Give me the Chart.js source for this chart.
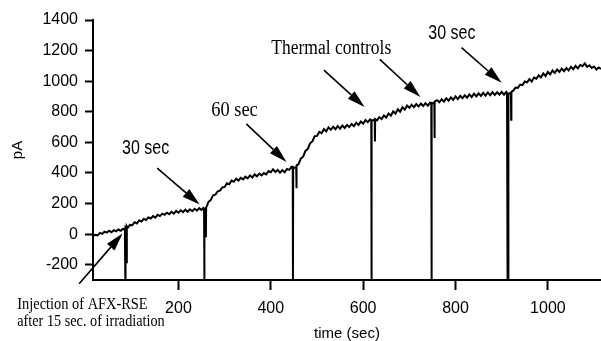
<!DOCTYPE html>
<html>
<head>
<meta charset="utf-8">
<script src="https://cdn.jsdelivr.net/npm/chart.js@4.4.1/dist/chart.umd.min.js"></script>
<style>
  html, body { margin: 0; padding: 0; background: #fff; }
</style>
</head>
<body>
<canvas id="trace" width="601" height="341"></canvas>
<script>
// time (sec) and current (pA); the vertical spikes
// are the injections / irradiations and run off the bottom of the plot
const timeSec = [
  15, 20, 25, 30, 35, 40, 45, 50, 55, 60, 65, 70, 75, 80,
  84, 85, 85.5, 87.5, 88, 88.5,
  90, 95, 100, 105, 110, 115, 120, 125, 130, 135, 140, 145, 150, 155, 160, 165, 170,
  175, 180, 185, 190, 195, 200, 205, 210, 215, 220, 225, 230, 235, 240, 245, 250, 254,
  255.5, 256, 256.5, 259, 259.5, 260,
  262, 265, 270, 275, 280, 285, 290, 295, 300, 305, 310, 315, 320, 325, 330, 335, 340,
  345, 350, 355, 360, 365, 370, 375, 380, 385, 390, 395, 400, 405, 410, 415, 420, 425, 430, 435, 440, 445,
  447.5, 448, 448.5, 455, 455.5, 456,
  460, 465, 470, 475, 480, 485, 490, 495, 500, 505, 510, 515, 520, 525, 530, 535, 540,
  545, 550, 555, 560, 565, 570, 575, 580, 585, 590, 595, 600, 605, 610, 615,
  617.5, 618, 618.5, 625, 625.5, 626,
  630, 635, 640, 645, 650, 655, 660, 665, 670, 675, 680, 685, 690, 695, 700,
  705, 710, 715, 720, 725, 730, 735, 740, 745,
  747.5, 748, 748.5, 754, 754.5, 755,
  760, 765, 770, 775, 780, 785, 790, 795, 800, 805, 810, 815, 820, 825, 830, 835,
  840, 845, 850, 855, 860, 865, 870, 875, 880, 885, 890, 895, 900, 905, 910,
  911.5, 912, 912.5, 913.5, 914, 914.5, 920, 920.5, 921,
  925, 930, 935, 940, 945, 950, 955, 960, 965, 970, 975, 980, 985, 990, 995, 1000, 1005, 1010,
  1015, 1020, 1025, 1030, 1035, 1040, 1045, 1050, 1055, 1060, 1065, 1070, 1075, 1080, 1085, 1090, 1095, 1100, 1105, 1110, 1115
]
const currentPA = [
  -14, -4, -8, 8, 2, 16, 10, 22, 12, 26, 18, 30, 22, 34,
  32, -300, 45, 38, -190, 50,
  40, 60, 58, 78, 70, 90, 82, 100, 92, 110, 102, 118, 108, 126, 118, 134, 126,
  140, 130, 146, 134, 152, 140, 156, 144, 160, 146, 162, 150, 166, 154, 170, 158, 172,
  168, -300, 150, 140, -20, 175,
  186, 210, 224, 254, 258, 280, 284, 306, 308, 332, 326, 350, 342, 362, 350, 368, 358,
  376, 364, 384, 370, 390, 378, 396, 384, 400, 390, 412, 404, 424, 406, 420, 402, 418, 404, 426, 420, 440,
  440, -300, 430, 440, 300, 448,
  458, 494, 506, 544, 556, 594, 606, 640, 642, 668, 660, 686, 672, 698, 682, 702, 686,
  706, 690, 710, 694, 714, 700, 720, 706, 728, 714, 736, 722, 746, 732, 750,
  744, -300, 740, 750, 605, 752,
  744, 764, 752, 776, 762, 788, 774, 802, 788, 816, 800, 830, 814, 840, 826,
  846, 830, 850, 834, 854, 838, 856, 840, 860,
  858, -300, 850, 862, 628, 866,
  876, 862, 882, 866, 888, 872, 894, 878, 900, 882, 904, 888, 908, 892, 914, 896,
  918, 900, 920, 904, 924, 906, 926, 908, 928, 910, 928, 912, 930, 912, 930,
  924, -300, 920, 922, -300, 915, 925, 748, 930,
  938, 958, 956, 978, 974, 998, 992, 1014, 998, 1024, 1016, 1038, 1024, 1050, 1034, 1060, 1044, 1070,
  1054, 1076, 1060, 1082, 1066, 1086, 1070, 1094, 1078, 1100, 1084, 1106, 1098, 1116, 1094, 1104, 1086, 1096, 1076, 1090, 1080
]

const xTicks = [200, 400, 600, 800, 1000]
const yTicks = [-200, 0, 200, 400, 600, 800, 1000, 1200, 1400]

// callouts, placed in data units (time, pA)
const notes = [
  { text: '30 sec', t: 78, v: 524, font: '20px "Liberation Sans"', sx: 0.8 },
  { text: '60 sec', t: 271, v: 770, font: '20px "Liberation Serif"', sx: 0.92 },
  { text: 'Thermal controls', t: 401, v: 1175, font: '20px "Liberation Serif"', sx: 0.875 },
  { text: '30 sec', t: 741, v: 1273, font: '20px "Liberation Sans"', sx: 0.8 },
  { text: 'Injection of AFX-RSE', t: -149, v: -490, font: '16px "Liberation Serif"', sx: 0.9 },
  { text: 'after 15 sec. of irradiation', t: -149, v: -599, font: '16px "Liberation Serif"', sx: 0.89 }
]
const arrows = [
  { from: [154, 432], to: [246, 193] },
  { from: [347, 721], to: [434, 472] },
  { from: [515, 1072], to: [603, 831] },
  { from: [636, 1142], to: [724, 897] },
  { from: [813, 1219], to: [900, 989] },
  { from: [-15, -325], to: [79, 4] }
]

const callouts = {
  id: 'callouts',
  afterDraw (chart) {
    const { ctx, scales: { x, y } } = chart
    ctx.save()
    ctx.fillStyle = '#000'
    ctx.strokeStyle = '#000'
    ctx.textBaseline = 'alphabetic'
    ctx.textAlign = 'left'
    notes.forEach(n => {
      ctx.save()
      ctx.translate(x.getPixelForValue(n.t), y.getPixelForValue(n.v))
      ctx.scale(n.sx, 1)
      ctx.font = n.font
      ctx.fillText(n.text, 0, 0)
      ctx.restore()
    })
    arrows.forEach(a => {
      const x0 = x.getPixelForValue(a.from[0])
      const y0 = y.getPixelForValue(a.from[1])
      const x1 = x.getPixelForValue(a.to[0])
      const y1 = y.getPixelForValue(a.to[1])
      const ang = Math.atan2(y1 - y0, x1 - x0)
      const len = 18
      const half = 5
      const bx = x1 - len * Math.cos(ang)
      const by = y1 - len * Math.sin(ang)
      ctx.lineWidth = 1.6
      ctx.beginPath()
      ctx.moveTo(x0, y0)
      ctx.lineTo(bx, by)
      ctx.stroke()
      ctx.beginPath()
      ctx.moveTo(x1, y1)
      ctx.lineTo(bx + half * Math.sin(ang), by - half * Math.cos(ang))
      ctx.lineTo(bx - half * Math.sin(ang), by + half * Math.cos(ang))
      ctx.closePath()
      ctx.fill()
    })
    ctx.restore()
  }
}

const tickFont = { family: '"Liberation Sans", Arial, sans-serif', size: 16 }

new Chart(document.getElementById('trace'), {
  type: 'line',
  data: {
    datasets: [{
      data: timeSec.map((t, i) => ({ x: t, y: currentPA[i] })),
      borderColor: '#000',
      borderWidth: 2,
      pointRadius: 0,
      tension: 0,
      fill: false
    }]
  },
  options: {
    responsive: false,
    animation: false,
    layout: { padding: { top: 20, right: 0, bottom: 0, left: 0 } },
    plugins: { legend: { display: false }, tooltip: { enabled: false } },
    scales: {
      x: {
        type: 'linear',
        min: 15,
        max: 1115,
        afterBuildTicks: s => { s.ticks = xTicks.map(v => ({ value: v })) },
        afterFit: s => { s.height = 61 },
        border: { display: true, color: '#000', width: 2 },
        grid: { drawOnChartArea: false, drawTicks: true, tickLength: 10, tickWidth: 2, tickColor: '#000' },
        ticks: { color: '#000', font: tickFont, padding: 9, maxRotation: 0, autoSkip: false, callback: v => String(v) },
        title: {
          display: true,
          text: 'time (sec)',
          color: '#000',
          font: { family: '"Liberation Sans", Arial, sans-serif', size: 15, lineHeight: 1 },
          padding: { top: 0, bottom: 0 }
        }
      },
      y: {
        type: 'linear',
        min: -300,
        max: 1400,
        afterBuildTicks: s => { s.ticks = yTicks.map(v => ({ value: v })) },
        afterFit: s => { s.width = 93 },
        border: { display: true, color: '#000', width: 2 },
        grid: { drawOnChartArea: false, drawTicks: true, tickLength: 8, tickWidth: 2, tickColor: '#000' },
        ticks: { color: '#000', font: tickFont, padding: 7, callback: v => String(v) },
        title: {
          display: true,
          text: 'pA',
          color: '#000',
          font: { family: '"Liberation Sans", Arial, sans-serif', size: 15, lineHeight: 1 },
          padding: { top: 10.5, bottom: 0 }
        }
      }
    }
  },
  plugins: [callouts]
})
</script>
</body>
</html>
